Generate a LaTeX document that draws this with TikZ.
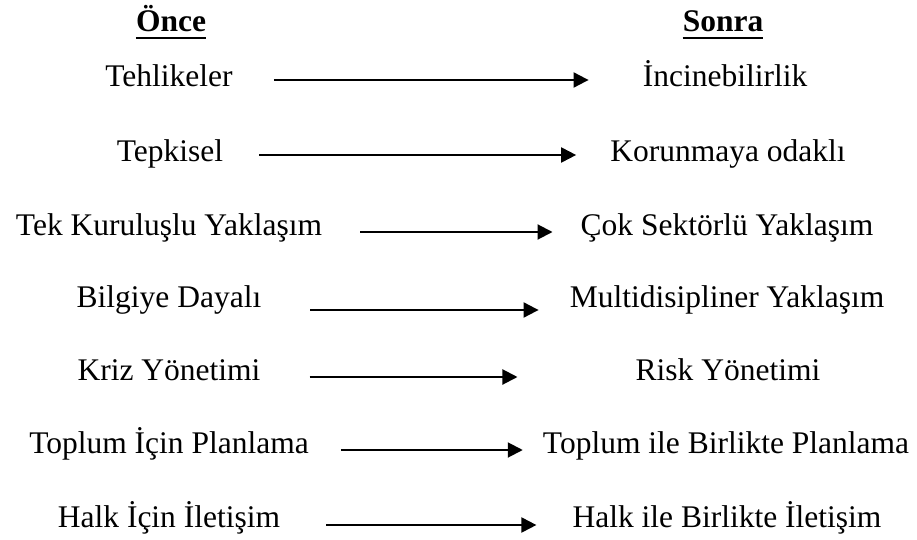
\documentclass[tikz,border=0pt]{standalone}
\usepackage{fontspec}
\setmainfont{Liberation Serif}
\usetikzlibrary{arrows.meta}

\begin{document}
\begin{tikzpicture}[x=1pt, y=-1pt, >={Triangle[length=15pt,width=15pt]},
	txt/.style={anchor=base, inner sep=0pt, font=\fontsize{31.5}{38}\selectfont},
	head/.style={txt, font=\fontsize{31.5}{38}\selectfont\bfseries},
	conn/.style={->, line width=2pt}]
	\useasboundingbox (0,0) rectangle (917,540);

	% Headers
	\node [head] (once)  at (171,32) {Önce};
	\node [head] (sonra) at (723,32) {Sonra};
	\draw [line width=2.5pt] ([yshift=-6pt]once.base west)  -- ([yshift=-6pt]once.base east);
	\draw [line width=2.5pt] ([yshift=-6pt]sonra.base west) -- ([yshift=-6pt]sonra.base east);

	% Nodes {o1..o7 before, s1..s7 after}
	\node [txt] (o1) at (169,87)  {Tehlikeler};
	\node [txt] (s1) at (725,87)  {İncinebilirlik};
	\node [txt] (o2) at (170,161) {Tepkisel};
	\node [txt] (s2) at (728,161) {Korunmaya odaklı};
	\node [txt] (o3) at (169,235) {Tek Kuruluşlu Yaklaşım};
	\node [txt] (s3) at (727,235) {Çok Sektörlü Yaklaşım};
	\node [txt] (o4) at (169,307) {Bilgiye Dayalı};
	\node [txt] (s4) at (727,307) {Multidisipliner Yaklaşım};
	\node [txt] (o5) at (169,380) {Kriz Yönetimi};
	\node [txt] (s5) at (728,380) {Risk Yönetimi};
	\node [txt] (o6) at (169,453) {Toplum İçin Planlama};
	\node [txt] (s6) at (726,453) {Toplum ile Birlikte Planlama};
	\node [txt] (o7) at (169,527) {Halk İçin İletişim};
	\node [txt] (s7) at (727,527) {Halk ile Birlikte İletişim};

	% Paths
	\draw [conn, shorten <=41pt, shorten >=54pt]  ([yshift=7pt]o1.base east)  -- ([yshift=7pt]s1.base west);
	\draw [conn, shorten <=36pt, shorten >=34pt]  ([yshift=6pt]o2.base east)  -- ([yshift=6pt]s2.base west);
	\draw [conn, shorten <=38pt, shorten >=28pt]  ([yshift=3pt]o3.base east)  -- ([yshift=3pt]s3.base west);
	\draw [conn, shorten <=49pt, shorten >=31pt]  ([yshift=-3pt]o4.base east) -- ([yshift=-3pt]s4.base west);
	\draw [conn, shorten <=49pt, shorten >=118pt] ([yshift=3pt]o5.base east)  -- ([yshift=3pt]s5.base west);
	\draw [conn, shorten <=32pt, shorten >=20pt]  ([yshift=3pt]o6.base east)  -- ([yshift=3pt]s6.base west);
	\draw [conn, shorten <=46pt, shorten >=36pt]  ([yshift=2pt]o7.base east)  -- ([yshift=2pt]s7.base west);

\end{tikzpicture}
\end{document}
